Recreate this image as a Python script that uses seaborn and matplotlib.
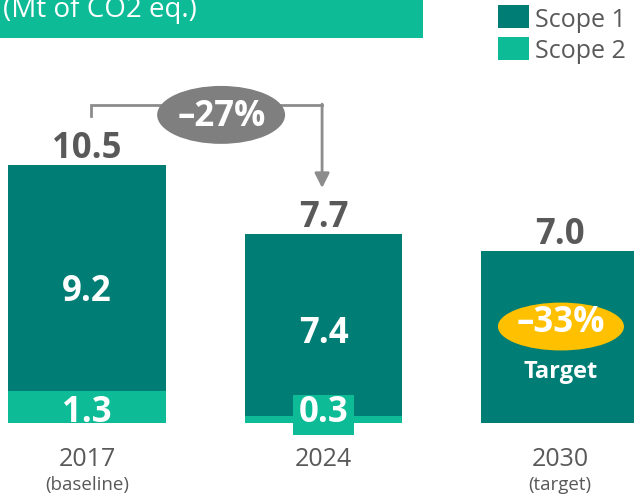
import matplotlib
matplotlib.use('Agg')
import matplotlib.pyplot as plt
import seaborn as sns
from matplotlib.patches import Ellipse, Rectangle

# ─── Data ─────────────────────────────────────────────────────────────────────
years = ['2017', '2024', '2030']
year_notes = ['(baseline)', '', '(target)']
scope1 = [9.2, 7.4, 7.0]
scope2 = [1.3, 0.3, 0.0]
totals = [10.5, 7.7, 7.0]
change_2024 = '–27%'
target_change = '–33%'

# ─── Style ────────────────────────────────────────────────────────────────────
DARK = '#007d74'
LIGHT = '#0dbb96'
TXT = '#595959'
GREY = '#7f7f7f'
LINE = '#8c8c8c'
YELLOW = '#ffc000'

sns.set_style('white')
plt.rcParams['font.family'] = ['Open Sans', 'DejaVu Sans']

fig = plt.figure(figsize=(6.34, 4.98), dpi=100)
ax = fig.add_axes([0, 0, 1, 1])

# totals drawn dark, scope 2 overlaid at the base
sns.barplot(x=years, y=totals, color=DARK, width=0.667, saturation=1,
            linewidth=0, ax=ax)
sns.barplot(x=years, y=scope2, color=LIGHT, width=0.667, saturation=1,
            linewidth=0, ax=ax)
ax.set_xlim(-0.368, 2.313)
ax.set_ylim(-3.055, 17.23)
ax.axis('off')

# ─── Labels ───────────────────────────────────────────────────────────────────
for i, (s1, s2, tot) in enumerate(zip(scope1, scope2, totals)):
    ax.text(i, tot + 0.3, f'{tot:.1f}', ha='center', va='baseline',
            fontsize=25, fontweight='bold', color=TXT)
    ax.text(i, -1.75, years[i], ha='center', va='baseline', fontsize=18, color=TXT)
    if year_notes[i]:
        ax.text(i, -2.72, year_notes[i], ha='center', va='baseline',
                fontsize=13.5, color=TXT)
    if s2 > 0:
        ax.text(i, s2 + s1 * 0.40, f'{s1:.1f}', ha='center', va='baseline',
                fontsize=25, fontweight='bold', color='white')
        if s2 < 1:
            ax.add_patch(Rectangle((i - 0.131, -0.49), 0.262, 1.63,
                                   facecolor=LIGHT, edgecolor='none', zorder=3))
        ax.text(i, 0.06, f'{s2:.1f}', ha='center', va='baseline',
                fontsize=25, fontweight='bold', color='white', zorder=4)

# ─── -27% bracket ─────────────────────────────────────────────────────────────
top_y = 12.95
ax.plot([0.017, 0.017, 0.994], [12.5, top_y, top_y], color=LINE, lw=2,
        solid_capstyle='projecting', solid_joinstyle='miter', zorder=3)
ax.annotate('', xy=(0.994, totals[1] + 1.87), xytext=(0.994, top_y + 0.04),
            arrowprops=dict(arrowstyle='-|>', color=LINE, lw=2,
                            mutation_scale=22, shrinkA=0, shrinkB=0),
            zorder=3)
ax.add_patch(Ellipse((0.567, 12.55), 0.541, 2.36, facecolor=GREY,
                     edgecolor='none', zorder=4))
ax.text(0.569, 12.1, change_2024, ha='center', va='baseline', fontsize=25,
        fontweight='bold', color='white', zorder=5)

# ─── -33% target badge ────────────────────────────────────────────────────────
ax.add_patch(Ellipse((2.004, 3.93), 0.533, 1.95, facecolor=YELLOW,
                     edgecolor='none', zorder=4))
ax.text(2.004, 3.71, target_change, ha='center', va='baseline', fontsize=25,
        fontweight='bold', color='white', zorder=5)
ax.text(2.004, 1.83, 'Target', ha='center', va='baseline', fontsize=17,
        fontweight='bold', color='white', zorder=5)

# ─── Banner + legend (figure coords) ──────────────────────────────────────────
W, H = 634, 498
fig.patches.append(Rectangle((0, 1 - 38 / H), 423 / W, 38 / H,
                             transform=fig.transFigure, facecolor=LIGHT,
                             edgecolor='none'))
fig.text(3 / W, 1 - 17 / H, '(Mt of CO2 eq.)', ha='left', va='baseline',
         fontsize=20, color='white')

for (label, col, top, base) in [('Scope 1', DARK, 5, 27), ('Scope 2', LIGHT, 37, 58)]:
    fig.patches.append(Rectangle((498 / W, 1 - (top + 23) / H), 31 / W, 23 / H,
                                 transform=fig.transFigure, facecolor=col,
                                 edgecolor='none'))
    fig.text(535 / W, 1 - base / H, label, ha='left', va='baseline',
             fontsize=18, color=TXT)

fig.savefig('out.png', dpi=100)
